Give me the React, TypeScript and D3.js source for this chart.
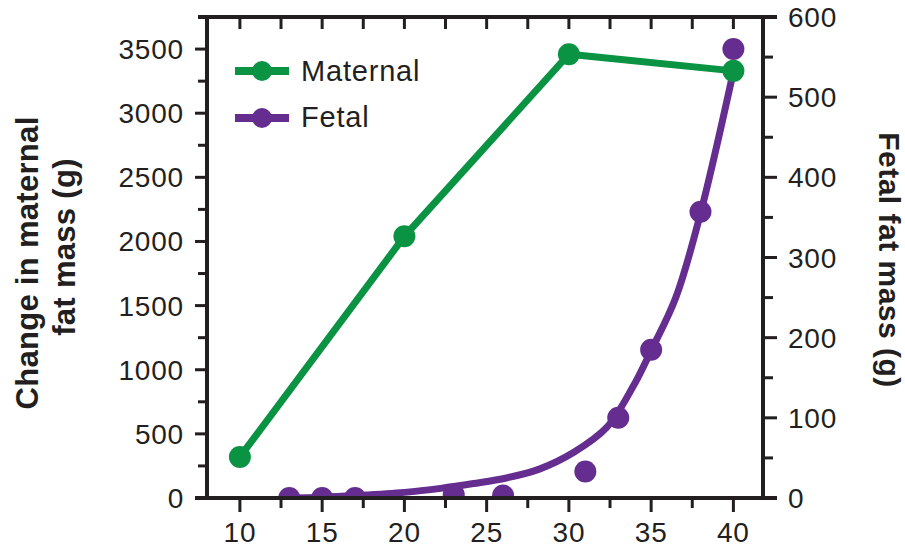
import React from "react";
import * as d3 from "d3";

// Gestational week vs. fat mass
const maternalWeeks = [10, 20, 30, 40];
const maternalFat = [320, 2040, 3460, 3330]; // g, left axis

const fetalWeeks = [13, 15, 17, 23, 26, 31, 33, 35, 38, 40];
const fetalFat = [0, 0, 0, 4, 3, 33, 100, 185, 357, 560]; // g, right axis

// Smoothed fit through the fetal measurements
const fetalFitWeeks = [13, 15, 17, 20, 22.2, 24.2, 26.2, 28.2, 30.3, 32.3, 33.9, 35, 36.5, 38, 40];
const fetalFitFat = [0, 1, 3, 7, 12, 18, 25, 36, 57, 88, 139, 184, 250, 355, 532];

const xMajorTicks = [10, 15, 20, 25, 30, 35, 40];
const xMinorTicks = [12.5, 17.5, 22.5, 27.5, 32.5, 37.5];
const leftMajorTicks = [0, 500, 1000, 1500, 2000, 2500, 3000, 3500];
const leftMinorTicks = [250, 750, 1250, 1750, 2250, 2750, 3250, 3750];
const rightMajorTicks = [0, 100, 200, 300, 400, 500, 600];
const rightMinorTicks = [50, 150, 250, 350, 450, 550];

const GREEN = "#0a9343";
const PURPLE = "#652d8f";
const INK = "#231f20";
const FONT = "'Liberation Sans', Arial, Helvetica, sans-serif";

export default function App() {
  const W = 905;
  const H = 547;
  const left = 207;
  const right = 763;
  const top = 17;
  const bottom = 498;

  const x = d3.scaleLinear().domain([8, 41.8]).range([left, right]);
  const yL = d3.scaleLinear().domain([0, 3750]).range([bottom, top]);
  const yR = d3.scaleLinear().domain([0, 600]).range([bottom, top]);

  const maternal = maternalWeeks.map((w, i) => [w, maternalFat[i]] as [number, number]);
  const fetal = fetalWeeks.map((w, i) => [w, fetalFat[i]] as [number, number]);
  const fetalFit = fetalFitWeeks.map((w, i) => [w, fetalFitFat[i]] as [number, number]);

  const maternalLine = d3
    .line<[number, number]>()
    .x((d) => x(d[0]))
    .y((d) => yL(d[1]));
  const fitLine = d3
    .line<[number, number]>()
    .x((d) => x(d[0]))
    .y((d) => yR(d[1]))
    .curve(d3.curveCatmullRom.alpha(0.5));

  const axisW = 4;
  const tickFont = 28;

  return (
    <svg
      width={W}
      height={H}
      style={{ position: "absolute", left: 0, top: 0, background: "#fff" }}
      fontFamily={FONT}
    >
      <defs>
        <clipPath id="plotArea">
          <rect x={left} y={0} width={right - left + 20} height={bottom} />
        </clipPath>
      </defs>

      {/* Fetal series */}
      <g clipPath="url(#plotArea)">
        <path d={fitLine(fetalFit) || ""} fill="none" stroke={PURPLE} strokeWidth={7} />
        {fetal.map((d, i) => (
          <circle key={"f" + i} cx={x(d[0])} cy={yR(d[1])} r={11} fill={PURPLE} />
        ))}
      </g>

      {/* Maternal series */}
      <g clipPath="url(#plotArea)">
        <path d={maternalLine(maternal) || ""} fill="none" stroke={GREEN} strokeWidth={7} />
        {maternal.map((d, i) => (
          <circle key={"m" + i} cx={x(d[0])} cy={yL(d[1])} r={11} fill={GREEN} />
        ))}
      </g>

      {/* Frame */}
      <g stroke={INK} strokeWidth={axisW} strokeLinecap="butt">
        <line x1={left} x2={left} y1={top - axisW / 2} y2={bottom + axisW / 2} />
        <line x1={right} x2={right} y1={top - axisW / 2} y2={bottom + axisW / 2} />
        <line x1={left - 9} x2={right + 14} y1={top} y2={top} />
        <line x1={left - 12} x2={right + 14} y1={bottom} y2={bottom} />
      </g>

      {/* Bottom and top ticks */}
      <g stroke={INK} strokeWidth={3}>
        {xMajorTicks.map((t) => (
          <line key={"xb" + t} x1={x(t)} x2={x(t)} y1={bottom} y2={bottom + 14} />
        ))}
        {xMinorTicks.map((t) => (
          <line key={"xbm" + t} x1={x(t)} x2={x(t)} y1={bottom} y2={bottom + 10} />
        ))}
        {[...xMajorTicks, ...xMinorTicks].map((t) => (
          <line key={"xt" + t} x1={x(t)} x2={x(t)} y1={top} y2={top + 12} />
        ))}
      </g>

      {/* Left and right ticks */}
      <g stroke={INK} strokeWidth={3}>
        {leftMajorTicks.map((t) => (
          <line key={"l" + t} x1={left} x2={left - 12} y1={yL(t)} y2={yL(t)} />
        ))}
        {leftMinorTicks.map((t) => (
          <line key={"lm" + t} x1={left} x2={left - 9} y1={yL(t)} y2={yL(t)} />
        ))}
        {rightMajorTicks.map((t) => (
          <line key={"r" + t} x1={right} x2={right + 14} y1={yR(t)} y2={yR(t)} />
        ))}
        {rightMinorTicks.map((t) => (
          <line key={"rm" + t} x1={right} x2={right + 10} y1={yR(t)} y2={yR(t)} />
        ))}
      </g>

      {/* Tick labels */}
      <g fill={INK} fontSize={tickFont} letterSpacing={0.8}>
        {xMajorTicks.map((t) => (
          <text key={"xl" + t} x={x(t)} y={542} textAnchor="middle">
            {t}
          </text>
        ))}
        {leftMajorTicks.map((t) => (
          <text key={"ll" + t} x={184} y={yL(t) + 10} textAnchor="end">
            {t}
          </text>
        ))}
        {rightMajorTicks.map((t) => (
          <text key={"rl" + t} x={788} y={yR(t) + 10} textAnchor="start">
            {t}
          </text>
        ))}
      </g>

      {/* Axis titles */}
      <g fill={INK} fontWeight="bold">
        <text transform="translate(38,263) rotate(-90)" textAnchor="middle" fontSize={31} letterSpacing={0.3}>
          Change in maternal
        </text>
        <text transform="translate(75,247) rotate(-90)" textAnchor="middle" fontSize={31} letterSpacing={0.3}>
          fat mass (g)
        </text>
        <text transform="translate(879,260) rotate(90)" textAnchor="middle" fontSize={30} letterSpacing={0.5}>
          Fetal fat mass (g)
        </text>
      </g>

      {/* Legend */}
      <g>
        <line x1={235} x2={289} y1={71} y2={71} stroke={GREEN} strokeWidth={8} />
        <circle cx={262} cy={71} r={10} fill={GREEN} />
        <text x={301} y={81} fontSize={29} letterSpacing={0.8} fill={INK}>
          Maternal
        </text>
        <line x1={235} x2={289} y1={118} y2={118} stroke={PURPLE} strokeWidth={8} />
        <circle cx={262} cy={118} r={10} fill={PURPLE} />
        <text x={301} y={127} fontSize={29} letterSpacing={0.8} fill={INK}>
          Fetal
        </text>
      </g>
    </svg>
  );
}
